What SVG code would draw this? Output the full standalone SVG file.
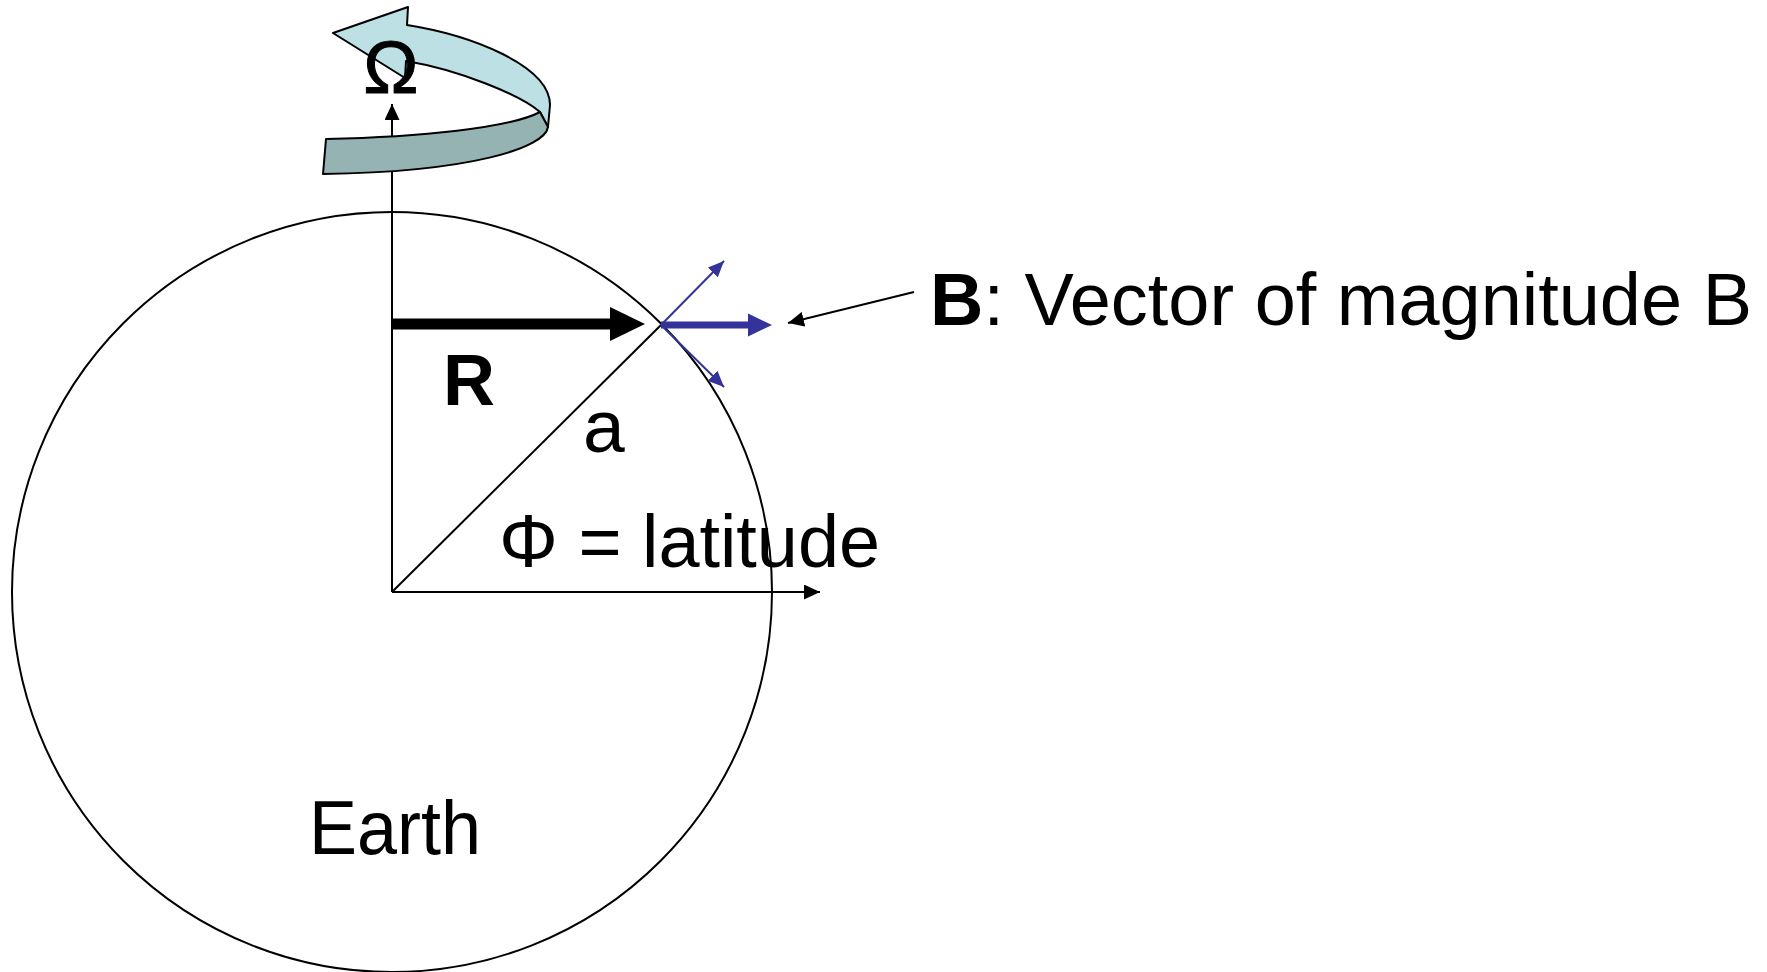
<svg xmlns="http://www.w3.org/2000/svg" width="1767" height="972" viewBox="0 0 1767 972">
<defs>
<style>
.ln{stroke:#000;stroke-width:2;fill:none}
.bl{stroke:#333399;fill:none}
.t{font-family:"Liberation Sans",Arial,sans-serif;fill:#000}
.rib{stroke:#000;stroke-width:2;stroke-linejoin:round}
</style>
<marker id="ah" markerWidth="16" markerHeight="15" refX="16" refY="7.5" orient="auto" markerUnits="userSpaceOnUse">
<path d="M0,0 L16,7.5 L0,15 Z" fill="#000"/>
</marker>
<marker id="ahb" markerWidth="16" markerHeight="14" refX="16" refY="7" orient="auto" markerUnits="userSpaceOnUse">
<path d="M0,0 L16,7 L0,14 Z" fill="#333399"/>
</marker>
</defs>
<rect width="1767" height="972" fill="#fff"/>

<g id="earth">
<circle cx="392" cy="592" r="380" class="ln"/>
<text class="t" x="309" y="854" font-size="76" textLength="172" lengthAdjust="spacingAndGlyphs">Earth</text>
</g>

<g id="connectors">
<line x1="392" y1="592" x2="392" y2="104" class="ln" marker-end="url(#ah)"/>
<line x1="392" y1="592" x2="820" y2="592" class="ln" marker-end="url(#ah)"/>
<line x1="392" y1="592" x2="661" y2="325" class="ln"/>
<line x1="914" y1="292" x2="788" y2="323" class="ln" marker-end="url(#ah)"/>
</g>

<g id="rotation">
<path class="rib" fill="#BCE0E4" d="M407,25 L408,7 L333,33 L405,78 L406,61 C460,70 520,95 540,112 L548,127 L550,105 C550,65 470,35 407,25 Z"/>
<path class="rib" fill="#96B3B4" d="M326,139 C420,137 510,128 540,112 L548,127 C545,148 470,172 323,174 Z"/>
<text class="t" x="391" y="93" font-size="74" text-anchor="middle" stroke="#000" stroke-width="1">Ω</text>
</g>

<g id="R-vector">
<line x1="392" y1="324" x2="612" y2="324" stroke="#000" stroke-width="11"/>
<path d="M610,307 L645,324 L610,341 Z" fill="#000"/>
<text class="t" x="443" y="405" font-size="72" font-weight="bold">R</text>
</g>

<g id="B-vectors">
<line x1="661" y1="325" x2="750" y2="325" stroke="#333399" stroke-width="7"/>
<path d="M748,313.5 L772,325 L748,336.5 Z" fill="#333399"/>
<line x1="661" y1="325" x2="724" y2="261" class="bl" stroke-width="2" marker-end="url(#ahb)"/>
<line x1="661" y1="325" x2="724" y2="387" class="bl" stroke-width="2" marker-end="url(#ahb)"/>
</g>

<g id="labels">
<text class="t" x="583" y="452" font-size="75">a</text>
<text class="t" x="499" y="567" font-size="75" textLength="381" lengthAdjust="spacingAndGlyphs">Φ = latitude</text>
<text class="t" x="930" y="325" font-size="75" textLength="822" lengthAdjust="spacingAndGlyphs"><tspan font-weight="bold">B</tspan>: Vector of magnitude B</text>
</g>
</svg>
